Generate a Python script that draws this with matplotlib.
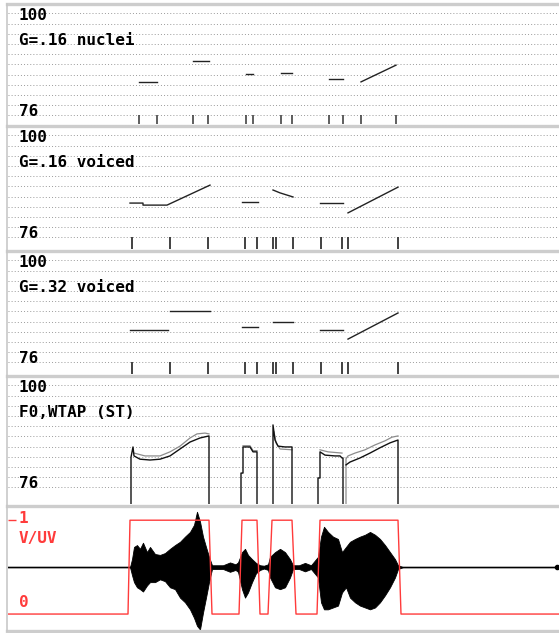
import matplotlib
matplotlib.use("Agg")
import matplotlib.pyplot as plt
from matplotlib.lines import Line2D

# time axis in ms, pitch in semitones (ST)
T_END = 1102

# panel 1: G=.16 nuclei  (start ms, end ms, start ST, end ST)
nuc_t0 = [262, 370, 476, 546, 642, 706]
nuc_t1 = [298, 402, 490, 568, 670, 776]
nuc_f0 = [83.2, 88.3, 85.1, 85.5, 83.8, 83.2]
nuc_f1 = [83.2, 88.3, 85.1, 85.5, 83.8, 87.3]
nuc_marks = [262, 298, 370, 400, 476, 490, 546, 568, 642, 670, 706, 776]

# panel 2: G=.16 voiced (polylines)
v16_t = [[244, 270, 270, 318, 404], [468, 500], [530, 544, 570], [624, 670], [680, 780]]
v16_f = [[83.4, 83.4, 82.9, 82.9, 87.8], [83.7, 83.7], [86.6, 85.9, 84.9], [83.4, 83.4], [81.0, 87.3]]
v16_marks = [248, 324, 400, 474, 498, 530, 536, 570, 626, 668, 680, 780]

# panel 3: G=.32 voiced
v32_t = [[244, 320], [324, 404], [468, 500], [530, 570], [624, 670], [680, 780]]
v32_f = [[82.9, 82.9], [87.6, 87.6], [83.7, 83.7], [84.9, 84.9], [82.9, 82.9], [80.7, 87.1]]
v32_marks = [248, 324, 400, 474, 498, 530, 536, 570, 626, 668, 680, 780]

# panel 4: F0 (black) and WTAP (grey)
f0_t = [[246, 246, 250, 252, 264, 284, 304, 324, 344, 364, 384, 402, 402],
        [466, 466, 470, 470, 484, 490, 498, 498],
        [530, 530, 534, 540, 554, 568, 568],
        [620, 620, 624, 624, 634, 654, 664, 668, 670, 670],
        [676, 684, 704, 724, 744, 764, 780, 780]]
f0_v = [[70, 82.4, 84.9, 82.7, 81.9, 81.7, 81.9, 82.7, 84.4, 86.1, 87.1, 87.6, 70],
        [70, 78.5, 78.5, 84.9, 84.9, 83.7, 83.7, 70],
        [70, 90.3, 86.6, 85.1, 84.9, 84.9, 70],
        [70, 77.3, 77.3, 83.7, 82.9, 82.7, 82.7, 82.2, 82.2, 70],
        [80.5, 81.2, 82.2, 83.4, 84.7, 85.9, 86.6, 70]]
wt_t = [[252, 274, 304, 324, 344, 364, 378, 394, 402],
        [470, 484, 490, 498],
        [532, 536, 544, 568],
        [624, 640, 668],
        [676, 676, 680, 694, 714, 734, 754, 768, 780]]
wt_v = [[83.4, 82.7, 82.7, 83.7, 85.1, 87.1, 88.1, 88.3, 88.1],
        [85.2, 85.2, 84.0, 84.0],
        [88.6, 85.9, 84.4, 84.2],
        [84.2, 83.7, 83.4],
        [70, 82.0, 82.7, 83.4, 84.2, 85.4, 86.4, 87.3, 87.6]]

# panel 5: voicing decision and waveform envelope
vuv_t = [0, 240, 244, 402, 408, 462, 468, 498, 504, 520, 528, 568, 576, 618, 624, 780, 786, T_END]
vuv_v = [0, 0, 1, 1, 0, 0, 1, 1, 0, 0, 1, 1, 0, 0, 1, 1, 0, 0]
wav_t = [0, 244, 248, 252, 258, 264, 270, 278, 284, 294, 304, 314, 324, 334, 344, 354, 364, 372, 378,
         384, 390, 396, 402, 408, 430, 444, 455, 460, 468, 474, 480, 488, 496, 504, 512, 520, 524, 534,
         544, 554, 564, 570, 582, 594, 606, 620, 626, 632, 640, 650, 660, 668, 676, 684, 694, 704, 714,
         724, 734, 744, 754, 764, 774, 780, 790, T_END]
wav_up = [0, 0, .17, .43, .47, .39, .52, .32, .43, .28, .26, .30, .39, .47, .54, .65, .75, .90, 1.18,
          .97, .65, .43, .22, .04, .04, .10, .06, .10, .32, .39, .26, .17, .09, .04, .03, .06, .22, .32,
          .39, .32, .17, .04, .04, .09, .04, .22, .65, .86, .75, .65, .60, .32, .43, .54, .60, .65, .69,
          .75, .69, .60, .47, .32, .17, .04, 0, 0]
wav_dn = [0, 0, -.17, -.32, -.43, -.47, -.52, -.39, -.32, -.32, -.26, -.30, -.43, -.47, -.65, -.75,
          -.90, -1.08, -1.25, -1.33, -.97, -.65, -.32, -.04, -.04, -.10, -.06, -.10, -.47, -.65, -.54,
          -.32, -.13, -.06, -.03, -.06, -.22, -.43, -.47, -.43, -.22, -.04, -.04, -.09, -.04, -.22, -.75,
          -.90, -.90, -.86, -.82, -.54, -.43, -.65, -.75, -.82, -.86, -.90, -.86, -.75, -.60, -.43, -.22,
          -.04, 0, 0]

W, H = 559, 633
fig = plt.figure(figsize=(W / 100, H / 100), dpi=100)
fig.patch.set_facecolor("white")

grey_bar = "#cdcdcd"
for y in [4, 126, 251, 376, 506, 631]:
    fig.add_artist(Line2D([7 / W, 1], [1 - y / H, 1 - y / H], transform=fig.transFigure,
                          color=grey_bar, lw=2.4))
fig.add_artist(Line2D([7 / W, 7 / W], [1 - 4 / H, 1 - 631 / H], transform=fig.transFigure,
                      color="#c8c8c8", lw=1.2))

mono = dict(family="DejaVu Sans Mono", fontweight="bold", fontsize=11.5)
TX = 22  # text start (ms)


def make_panel(top, bottom):
    ax = fig.add_axes([8 / W, 1 - bottom / H, (W - 8) / W, (bottom - top) / H])
    ax.set_xlim(0, T_END)
    for s in ax.spines.values():
        s.set_visible(False)
    ax.set_xticks([])
    ax.set_yticks([])
    return ax


def pitch_panel(top, bottom, title):
    ax = make_panel(top, bottom)
    ylo = 101.8 - (bottom - top) / 4.08
    ax.set_ylim(ylo, 101.8)
    for g in [100 - 2.5 * i for i in range(11)]:
        ax.axhline(g, color="#9a9a9a", lw=0.7, ls=(0, (1, 2.2)), zorder=0)
    ax.text(TX, 99.4, "100", va="center", **mono)
    ax.text(TX, 93.4, title, va="center", **mono)
    ax.text(TX, 75.9, "76", va="center", **mono)
    return ax, ylo


# panel 1
ax, ylo = pitch_panel(6, 124, "G=.16 nuclei")
for a, b, c, d in zip(nuc_t0, nuc_t1, nuc_f0, nuc_f1):
    ax.plot([a, b], [c, d], color="#222222", lw=1.0)
ax.vlines(nuc_marks, ylo, 75, color="#333333", lw=1.1)

# panel 2
ax, ylo = pitch_panel(128, 249, "G=.16 voiced")
for t, f in zip(v16_t, v16_f):
    ax.plot(t, f, color="#222222", lw=1.0)
ax.vlines(v16_marks, ylo, 75, color="#333333", lw=1.3)

# panel 3
ax, ylo = pitch_panel(253, 374, "G=.32 voiced")
for t, f in zip(v32_t, v32_f):
    ax.plot(t, f, color="#222222", lw=1.0)
ax.vlines(v32_marks, ylo, 75, color="#333333", lw=1.3)

# panel 4
ax, ylo = pitch_panel(378, 504, "F0,WTAP (ST)")
for t, f in zip(wt_t, wt_v):
    ax.plot(t, f, color="#8c8c8c", lw=0.9)
for t, f in zip(f0_t, f0_v):
    ax.plot(t, f, color="#111111", lw=1.0)

# panel 5
ax = make_panel(508, 630)
ax.set_ylim(-0.17, 1.13)
ax.axhline(0.5, color="#a8a8a8", lw=2.0, zorder=1)
up = [0.5 + 0.5 * a for a in wav_up]
dn = [0.5 + 0.5 * a for a in wav_dn]
ax.fill_between(wav_t, dn, up, color="black", lw=0.6, edgecolor="black", zorder=2)
ax.plot([T_END - 4], [0.5], "o", color="black", ms=3, zorder=3)
ax.plot(vuv_t, vuv_v, color="#ff3b3b", lw=1.0, zorder=4)
ax.set_yticks([1])
ax.set_yticklabels([])
ax.tick_params(axis="y", direction="in", length=6, color="#ff3b3b", width=1)
red = dict(mono, color="#ff3b3b")
ax.text(TX, 1.02, "1", va="center", **red)
ax.text(TX, 0.81, "V/UV", va="center", **red)
ax.text(TX, 0.12, "0", va="center", **red)

fig.savefig("out.png", dpi=100, facecolor="white")
